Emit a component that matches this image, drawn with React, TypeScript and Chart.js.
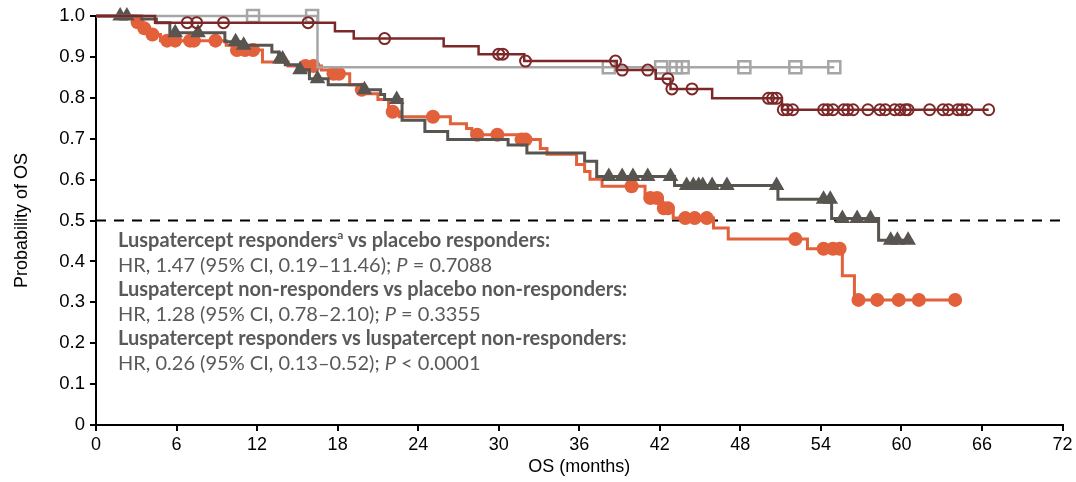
import React, { useEffect, useRef } from 'react';
import { Chart, registerables } from 'chart.js';

Chart.register(...registerables);

// ---------- data ----------
const xTickValues = [0, 6, 12, 18, 24, 30, 36, 42, 48, 54, 60, 66, 72];
const yTickValues = [0, 0.1, 0.2, 0.3, 0.4, 0.5, 0.6, 0.7, 0.8, 0.9, 1.0];
const medianLine = 0.5;

// Luspatercept responders (dark red, open circles): [month, survival]
const lrSteps: [number, number][] = [
  [0, 1], [4.4, 0.984], [17.8, 0.963], [19.2, 0.945], [25.9, 0.926], [28.5, 0.907],
  [31.9, 0.89], [38.8, 0.868], [41.7, 0.847], [42.8, 0.822], [45.9, 0.799], [51.1, 0.771],
];
const lrCensor = [
  6.8, 7.5, 9.5, 15.8, 21.5, 30.0, 30.3, 32.0, 38.7, 39.2, 41.1, 42.6, 42.9, 44.4,
  50.1, 50.4, 50.7, 51.2, 51.5, 51.9, 54.2, 54.5, 54.9, 55.7, 56.0, 56.4, 57.5,
  58.4, 58.8, 59.5, 59.9, 60.3, 60.5, 62.1, 63.1, 63.5, 64.2, 64.5, 64.9, 66.5,
];

// Placebo responders (light grey, open squares)
const prSteps: [number, number][] = [[0, 1], [16.5, 0.875]];
const prCensor = [11.7, 16.1, 38.2, 42.1, 43.2, 43.7, 48.3, 52.1, 55.0];

// Luspatercept non-responders (orange, filled circles)
const lnSteps: [number, number][] = [
  [0, 1], [2.9, 0.985], [3.4, 0.97], [4.0, 0.955], [4.8, 0.94], [9.7, 0.929], [10.2, 0.917],
  [12.4, 0.888], [14.3, 0.878], [16.8, 0.868], [17.3, 0.859], [18.9, 0.832], [19.6, 0.82],
  [20.2, 0.81], [21.0, 0.796], [21.8, 0.766], [22.6, 0.754], [26.4, 0.737], [27.6, 0.725],
  [28.0, 0.71], [31.4, 0.698], [33.1, 0.676], [33.6, 0.662], [35.8, 0.637], [36.4, 0.62],
  [36.8, 0.601], [37.7, 0.584], [40.9, 0.555], [42.2, 0.53], [43.0, 0.506], [46.0, 0.482],
  [47.1, 0.455], [53.0, 0.431], [55.6, 0.365], [56.5, 0.306],
];
const lnCensor = [
  3.1, 3.6, 4.2, 5.3, 5.9, 7.0, 7.3, 8.9, 10.5, 11.1, 11.7, 15.6, 16.2, 17.7, 18.1, 19.8,
  22.1, 25.1, 28.4, 29.9, 31.7, 32.0, 39.9, 41.3, 41.8, 42.3, 42.6, 43.9, 44.6, 45.5, 52.1,
  54.2, 54.9, 55.4, 56.8, 58.2, 59.8, 61.3, 64.0,
];

// Placebo non-responders (dark grey, filled triangles)
const pnSteps: [number, number][] = [
  [0, 1], [3.4, 0.993], [4.5, 0.984], [5.5, 0.959], [9.6, 0.937], [10.9, 0.929], [13.1, 0.912],
  [13.6, 0.895], [14.1, 0.881], [15.0, 0.869], [15.9, 0.847], [17.3, 0.832], [19.8, 0.82],
  [21.2, 0.808], [21.5, 0.796], [22.8, 0.745], [24.5, 0.718], [26.2, 0.698], [30.7, 0.685],
  [32.1, 0.665], [36.4, 0.645], [37.3, 0.608], [43.1, 0.586], [50.8, 0.552], [54.8, 0.505],
  [58.3, 0.452],
];
const pnCensor = [
  1.8, 2.3, 5.9, 7.6, 10.4, 11.0, 13.7, 13.9, 15.2, 16.5, 20.0, 22.4, 38.2, 39.2, 40.0, 41.1,
  42.8, 44.0, 44.5, 44.9, 45.2, 45.9, 47.0, 50.7, 54.2, 54.7, 55.6, 56.7, 57.7, 59.2, 59.7, 60.5,
];

// ---------- helpers ----------
const levelAt = (steps: [number, number][], t: number) => {
  let v = steps[0][1];
  for (const [m, s] of steps) if (m <= t) v = s;
  return v;
};
const linePoints = (steps: [number, number][], censor: number[]) => {
  const pts = steps.map(([x, y]) => ({ x, y }));
  const last = censor[censor.length - 1];
  pts.push({ x: last, y: levelAt(steps, last) });
  return pts;
};
const censorPoints = (steps: [number, number][], censor: number[]) =>
  censor.map((x) => ({ x, y: levelAt(steps, x) }));

const C_RED = '#7d2828';
const C_LGREY = '#a6a6a6';
const C_DGREY = '#58544f';
const C_ORANGE = '#e2603a';

export default function App() {
  const ref = useRef<HTMLCanvasElement>(null);

  useEffect(() => {
    if (!ref.current) return;
    const lineDs = (label: string, data: any[], color: string, width: number) => ({
      type: 'line' as const,
      label,
      data,
      borderColor: color,
      borderWidth: width,
      stepped: 'before' as const,
      pointRadius: 0,
      fill: false,
      clip: false as const,
    });
    const markDs = (label: string, data: any[], style: any, radius: number, border: string, bg: string, bw: number) => ({
      type: 'line' as const,
      label,
      data,
      showLine: false,
      pointStyle: style,
      pointRadius: radius,
      pointBorderColor: border,
      pointBackgroundColor: bg,
      pointBorderWidth: bw,
      clip: false as const,
    });

    const chart = new Chart(ref.current, {
      type: 'line',
      data: {
        datasets: [
          markDs('LR censored', censorPoints(lrSteps, lrCensor), 'circle', 5.5, C_RED, 'rgba(0,0,0,0)', 2),
          lineDs('Luspatercept responders', linePoints(lrSteps, lrCensor), C_RED, 2.5),
          markDs('PR censored', censorPoints(prSteps, prCensor), 'rect', 8.5, C_LGREY, 'rgba(0,0,0,0)', 2.5),
          lineDs('Placebo responders', linePoints(prSteps, prCensor), C_LGREY, 2.5),
          markDs('PN censored', censorPoints(pnSteps, pnCensor), 'triangle', 9, C_DGREY, C_DGREY, 0),
          lineDs('Placebo non-responders', linePoints(pnSteps, pnCensor), C_DGREY, 3),
          markDs('LN censored', censorPoints(lnSteps, lnCensor), 'circle', 7, C_ORANGE, C_ORANGE, 0),
          lineDs('Luspatercept non-responders', linePoints(lnSteps, lnCensor), C_ORANGE, 3),
          {
            type: 'line' as const,
            label: 'Median',
            data: [{ x: 0, y: medianLine }, { x: 72, y: medianLine }],
            borderColor: '#000',
            borderWidth: 2,
            borderDash: [10, 8],
            pointRadius: 0,
          },
        ],
      },
      options: {
        animation: false,
        responsive: true,
        maintainAspectRatio: false,
        layout: { padding: { left: 0, top: 14, right: 27.5, bottom: 0 } },
        plugins: { legend: { display: false }, tooltip: { enabled: false } },
        scales: {
          x: {
            type: 'linear',
            min: 0,
            max: 72,
            afterBuildTicks: (s: any) => { s.ticks = xTickValues.map((v) => ({ value: v })); },
            afterFit: (s: any) => { s.height = 57; },
            border: { display: true, color: '#000', width: 2 },
            grid: { display: true, drawOnChartArea: false, drawTicks: true, tickLength: 6, color: '#000', lineWidth: 2 },
            ticks: {
              color: '#000',
              padding: 3,
              maxRotation: 0,
              autoSkip: false,
              font: { family: '"Liberation Sans Narrow", "Liberation Sans", Arial', size: 18 },
              callback: (v: any) => String(v),
            },
            title: {
              display: true,
              text: 'OS (months)',
              color: '#000',
              padding: { top: 0, bottom: 4 },
              font: { family: '"Liberation Sans Narrow", "Liberation Sans", Arial', size: 18 },
            },
          },
          y: {
            type: 'linear',
            min: 0,
            max: 1,
            afterBuildTicks: (s: any) => { s.ticks = yTickValues.map((v) => ({ value: v })); },
            afterFit: (s: any) => { s.width = 96; },
            border: { display: true, color: '#000', width: 2 },
            grid: { display: true, drawOnChartArea: false, drawTicks: true, tickLength: 6, color: '#000', lineWidth: 2 },
            ticks: {
              color: '#000',
              padding: 5,
              autoSkip: false,
              font: { family: '"Liberation Sans", Arial', size: 18.5 },
              callback: (v: any) => (Number(v) === 0 ? '0' : Number(v).toFixed(1)),
            },
            title: {
              display: true,
              text: 'Probability of OS',
              color: '#000',
              padding: { top: 11, bottom: 0 },
              font: { family: '"Liberation Sans", Arial', size: 18 },
            },
          },
        },
      },
    });
    return () => chart.destroy();
  }, []);

  const lineStyle: React.CSSProperties = { whiteSpace: 'nowrap', height: 24.6 };
  return (
    <div style={{ position: 'fixed', left: 0, top: 0, width: 1076, height: 482, overflow: 'hidden', background: '#fff' }}>
      <div style={{ position: 'absolute', left: 0, top: 0, width: 1090, height: 482 }}>
        <canvas ref={ref} />
      </div>
      <div
        style={{
          position: 'absolute',
          left: 118,
          top: 227,
          fontFamily: 'Lato, "Open Sans", sans-serif',
          fontSize: 20,
          lineHeight: '24.6px',
          color: '#595959',
        }}
      >
        <div style={{ ...lineStyle, fontWeight: 700 }}>
          Luspatercept responders
          <span style={{ fontSize: 12, position: 'relative', top: -8 }}>a</span> vs placebo responders:
        </div>
        <div style={lineStyle}>
          HR, 1.47 (95% CI, 0.19–11.46); <i>P</i> = 0.7088
        </div>
        <div style={{ ...lineStyle, fontWeight: 700 }}>Luspatercept non-responders vs placebo non-responders:</div>
        <div style={lineStyle}>
          HR, 1.28 (95% CI, 0.78–2.10); <i>P</i> = 0.3355
        </div>
        <div style={{ ...lineStyle, fontWeight: 700 }}>Luspatercept responders vs luspatercept non-responders:</div>
        <div style={lineStyle}>
          HR, 0.26 (95% CI, 0.13–0.52); <i>P</i> &lt; 0.0001
        </div>
      </div>
    </div>
  );
}
